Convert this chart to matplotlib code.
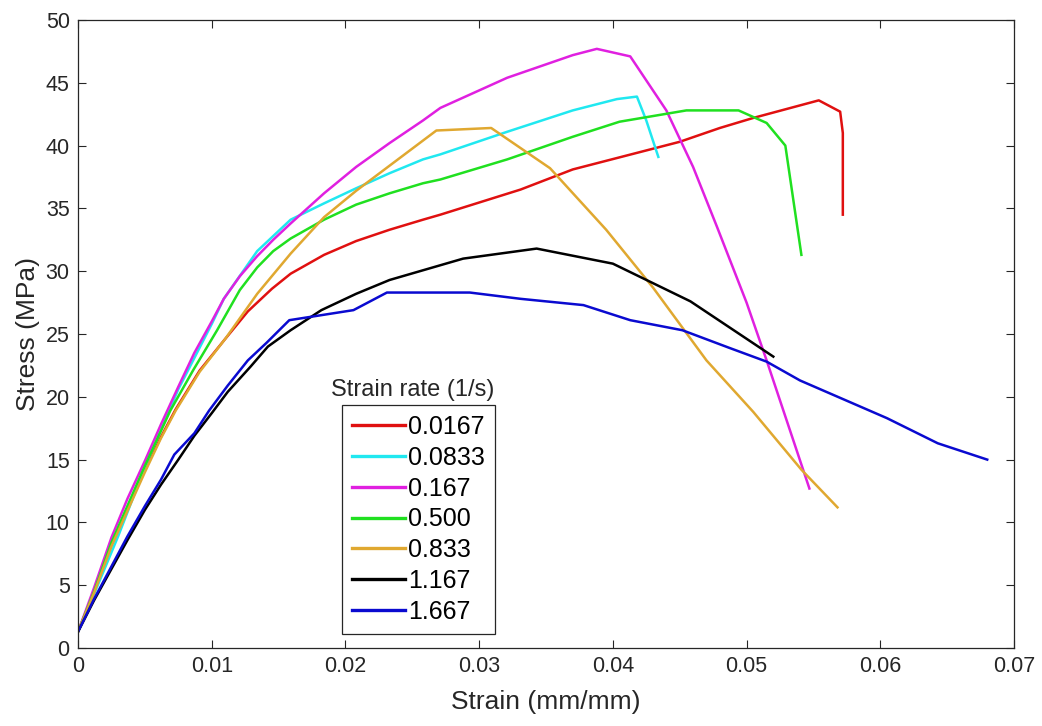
import matplotlib
matplotlib.use("Agg")
import matplotlib.pyplot as plt

plt.rcParams['font.family'] = ['Liberation Sans', 'DejaVu Sans']

# strain (mm/mm) / stress (MPa), una serie por velocidad
strain_0167 = [0, 0.0012, 0.0025, 0.0050, 0.0062, 0.0073, 0.0091, 0.0110, 0.0127, 0.0145,
               0.0159, 0.0184, 0.0208, 0.0233, 0.0258, 0.0271, 0.0331, 0.0370, 0.0450, 0.0480,
               0.0505, 0.0554, 0.0570, 0.0572, 0.0572]
stress_0167 = [1.3, 4.5, 8.2, 14.2, 16.8, 19.0, 22.1, 24.6, 26.8, 28.6,
               29.8, 31.3, 32.4, 33.3, 34.1, 34.5, 36.5, 38.1, 40.3, 41.4,
               42.2, 43.6, 42.7, 41.0, 34.5]

strain_0833 = [0, 0.0012, 0.0030, 0.0050, 0.0075, 0.0100, 0.0109, 0.0134, 0.0159, 0.0184,
               0.0208, 0.0233, 0.0258, 0.0271, 0.0321, 0.0370, 0.0403, 0.0418, 0.0425, 0.0434]
stress_0833 = [1.3, 4.3, 8.9, 14.4, 20.6, 25.8, 27.8, 31.6, 34.1, 35.4,
               36.6, 37.8, 38.9, 39.3, 41.1, 42.8, 43.7, 43.9, 42.0, 39.1]

strain_167 = [0, 0.0012, 0.0025, 0.0037, 0.0050, 0.0062, 0.0075, 0.0087, 0.0100, 0.0109,
              0.0121, 0.0134, 0.0146, 0.0159, 0.0184, 0.0208, 0.0233, 0.0258, 0.0271, 0.0321,
              0.0370, 0.0388, 0.0413, 0.0440, 0.0460, 0.0478, 0.0500, 0.0515, 0.0547]
stress_167 = [1.3, 4.8, 8.8, 11.9, 14.9, 17.8, 20.8, 23.5, 26.0, 27.8,
              29.6, 31.2, 32.5, 33.8, 36.2, 38.3, 40.2, 42.0, 43.0, 45.4,
              47.2, 47.7, 47.1, 42.8, 38.3, 33.5, 27.5, 22.9, 12.7]

strain_500 = [0, 0.0012, 0.0025, 0.0050, 0.0069, 0.0086, 0.0104, 0.0121, 0.0134, 0.0146,
              0.0159, 0.0184, 0.0208, 0.0233, 0.0258, 0.0271, 0.0321, 0.0370, 0.0405, 0.0455,
              0.0494, 0.0515, 0.0529, 0.0541]
stress_500 = [1.3, 4.5, 8.4, 14.5, 18.9, 22.1, 25.3, 28.5, 30.3, 31.6,
              32.6, 34.1, 35.3, 36.2, 37.0, 37.3, 38.9, 40.7, 41.9, 42.8,
              42.8, 41.8, 40.0, 31.3]

strain_833 = [0, 0.0012, 0.0025, 0.0050, 0.0062, 0.0073, 0.0091, 0.0110, 0.0134, 0.0159,
              0.0184, 0.0208, 0.0228, 0.0268, 0.0309, 0.0353, 0.0395, 0.0430, 0.0470, 0.0505,
              0.0541, 0.0568]
stress_833 = [1.3, 4.4, 8.1, 14.0, 16.7, 18.9, 22.0, 24.6, 28.2, 31.4,
              34.3, 36.4, 38.0, 41.2, 41.4, 38.2, 33.3, 28.7, 22.9, 18.8,
              14.2, 11.2]

strain_1167 = [0, 0.0012, 0.0025, 0.0037, 0.0050, 0.0062, 0.0075, 0.0087, 0.0100, 0.0112,
               0.0129, 0.0142, 0.0159, 0.0182, 0.0208, 0.0233, 0.0288, 0.0343, 0.0400, 0.0458,
               0.0520]
stress_1167 = [1.3, 3.8, 6.3, 8.6, 11.0, 13.0, 15.0, 16.9, 18.7, 20.4,
               22.4, 24.0, 25.3, 26.9, 28.2, 29.3, 31.0, 31.8, 30.6, 27.6,
               23.2]

strain_1667 = [0, 0.0012, 0.0025, 0.0037, 0.0050, 0.0062, 0.0072, 0.0087, 0.0098, 0.0112,
               0.0127, 0.0141, 0.0158, 0.0206, 0.0231, 0.0293, 0.0331, 0.0378, 0.0413, 0.0452,
               0.0487, 0.0515, 0.0540, 0.0605, 0.0643, 0.0680]
stress_1667 = [1.3, 3.9, 6.5, 8.9, 11.3, 13.4, 15.4, 17.1, 18.9, 20.9,
               22.9, 24.3, 26.1, 26.9, 28.3, 28.3, 27.8, 27.3, 26.1, 25.3,
               23.9, 22.8, 21.3, 18.3, 16.3, 15.0]

etiquetas = ['0.0167', '0.0833', '0.167', '0.500', '0.833', '1.167', '1.667']
colores = ['#e01010', '#20e8f0', '#e020e0', '#20e020', '#e0a830', '#000000', '#0a0ad0']

series = [(strain_0167, stress_0167), (strain_0833, stress_0833), (strain_167, stress_167),
          (strain_500, stress_500), (strain_833, stress_833), (strain_1167, stress_1167),
          (strain_1667, stress_1667)]

fig = plt.figure(figsize=(10.42, 7.26), dpi=100)
ax = fig.add_axes([0.0749, 0.1074, 0.8982, 0.8651])

for (x, y), c, lab in zip(series, colores, etiquetas):
    ax.plot(x, y, color=c, lw=1.8, label=lab, solid_joinstyle='round')

ax.set_xlim(0, 0.07)
ax.set_ylim(0, 50)
ax.set_xticks([0, 0.01, 0.02, 0.03, 0.04, 0.05, 0.06, 0.07])
ax.set_xticklabels(['0', '0.01', '0.02', '0.03', '0.04', '0.05', '0.06', '0.07'])
ax.set_yticks(range(0, 51, 5))
ax.tick_params(direction='in', top=True, right=True, length=6, labelsize=15.5,
               colors='#262626', pad=6)
for s in ax.spines.values():
    s.set_color('#262626')
    s.set_linewidth(0.9)

ax.set_xlabel('Strain (mm/mm)', fontsize=19, color='#262626', labelpad=9)
ax.set_ylabel('Stress (MPa)', fontsize=19, color='#262626', labelpad=4)

leg = ax.legend(loc='lower left', bbox_to_anchor=(0.282, 0.022), fontsize=18,
                handlelength=2.1, handletextpad=0.12, labelspacing=0.27,
                borderpad=0.42, borderaxespad=0, fancybox=False, framealpha=1)
leg.get_frame().set_edgecolor('#262626')
leg.get_frame().set_linewidth(0.9)
for l in leg.get_lines():
    l.set_linewidth(2.4)

ax.text(0.358, 0.411, 'Strain rate (1/s)', transform=ax.transAxes, ha='center',
        va='center', fontsize=17, color='#262626')

fig.savefig('out.png', dpi=100)
